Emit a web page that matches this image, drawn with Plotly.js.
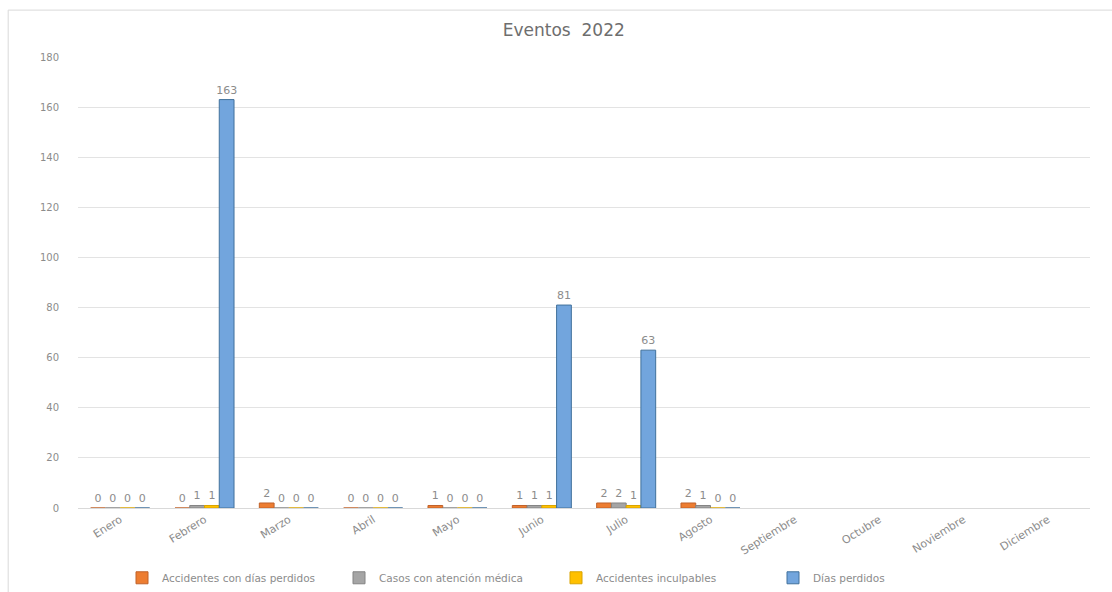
<!DOCTYPE html>
<html>
<head>
<meta charset="utf-8">
<script src="https://cdn.plot.ly/plotly-3.0.1.min.js"></script>
<style>html,body{margin:0;padding:0;background:#fff;}#chart{width:1112px;height:592px;}</style>
</head>
<body>
<div id="chart"></div>
<script>
const months = ["Enero","Febrero","Marzo","Abril","Mayo","Junio","Julio","Agosto","Septiembre","Octubre","Noviembre","Diciembre"];
const accidentesDiasPerdidos = [0,0,2,0,1,1,2,2,null,null,null,null];
const casosAtencionMedica = [0,1,0,0,0,1,2,1,null,null,null,null];
const accidentesInculpables = [0,1,0,0,0,1,1,0,null,null,null,null];
const diasPerdidos = [0,163,0,0,0,81,63,0,null,null,null,null];
const yTicks = [0,20,40,60,80,100,120,140,160,180];

const seriesNames = ["Accidentes con días perdidos","Casos con atención médica","Accidentes inculpables","Días perdidos"];
const seriesData = [accidentesDiasPerdidos, casosAtencionMedica, accidentesInculpables, diasPerdidos];
const fills = ["#ED7D31","#A5A5A5","#FFC000","#72A5DD"];
const edges = ["#C0622A","#848484","#D9A300","#41719C"];
const FONT = 'DejaVu Sans, Liberation Sans, sans-serif';

const traces = seriesData.map((d,i)=>({
  type:'bar', name:seriesNames[i], x:months, y:d,
  marker:{color:fills[i], line:{color:edges[i], width:1}},
  text:d.map(v=>v===null?'':String(v)), textposition:'outside', cliponaxis:false, constraintext:'none',
  textfont:{family:FONT, size:11, color:'#8C8C8C'},
  hoverinfo:'x+y+name'
}));

const layout = {
  width:1112, height:592,
  margin:{l:78, r:22, t:57, b:84},
  paper_bgcolor:'#fff', plot_bgcolor:'#fff',
  title:{text:'Eventos  2022', x:0.507, xref:'container', xanchor:'center', y:0.95, yref:'container', yanchor:'middle',
    font:{family:FONT, size:17, color:'#6E6E6E'}},
  barmode:'group', bargap:0.3, bargroupgap:0,
  xaxis:{tickangle:-32, tickfont:{family:FONT, size:11, color:'#8C8C8C'},
    showline:true, linecolor:'#D9D9D9', ticks:'', showgrid:false, fixedrange:true},
  yaxis:{range:[0,180], tickvals:yTicks, ticktext:yTicks.map(String),
    tickfont:{family:FONT, size:10, color:'#8C8C8C'}, ticklabelstandoff:18,
    showgrid:true, gridcolor:'#E3E3E3', gridwidth:1, zeroline:false, showline:false, ticks:'', fixedrange:true},
  legend:{orientation:'h', x:0.5, xref:'container', xanchor:'center', y:0.024, yref:'container', yanchor:'middle',
    font:{family:FONT, size:10.5, color:'#8C8C8C'},
    itemwidth:30, entrywidth:172, entrywidthmode:'pixels', traceorder:'normal'},
  shapes:[{type:'rect', xref:'paper', yref:'paper', x0:-0.069, x1:1.05, y0:-0.3, y1:1.104,
    line:{color:'#D9D9D9', width:1}, fillcolor:'rgba(0,0,0,0)', layer:'below'}],
  showlegend:true
};
Plotly.newPlot('chart', traces, layout, {displayModeBar:false, staticPlot:true});
</script>
</body>
</html>
